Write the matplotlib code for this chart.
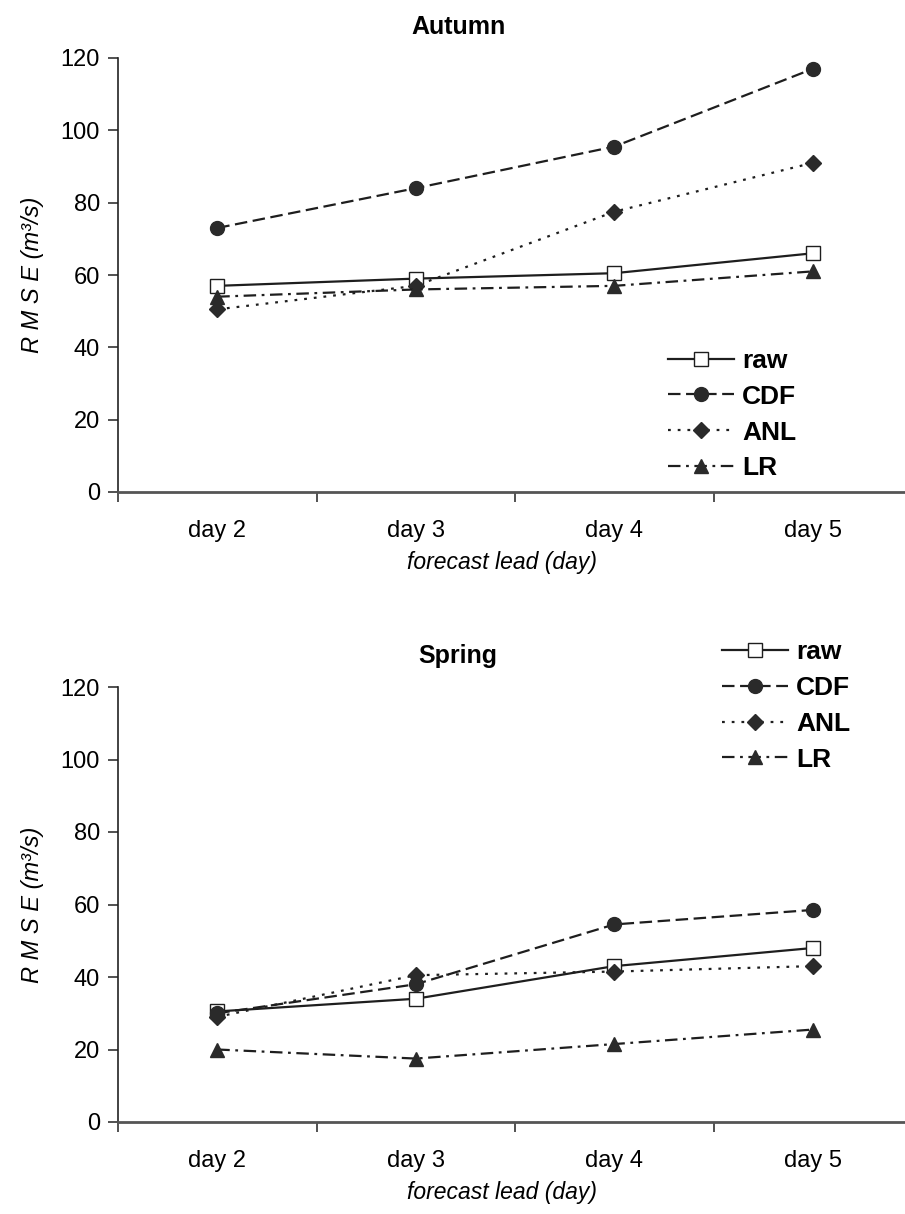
import matplotlib
matplotlib.use("Agg")
import matplotlib.pyplot as plt

plt.rcParams['font.family'] = ['Liberation Sans', 'DejaVu Sans']
plt.rcParams['lines.scale_dashes'] = False

days = ["day 2", "day 3", "day 4", "day 5"]
series = ["raw", "CDF", "ANL", "LR"]

# autumn RMSE (m3/s)
aut_raw = [57, 59, 60.5, 66]
aut_cdf = [73, 84, 95.5, 117]
aut_anl = [50.5, 57, 77.5, 91]
aut_lr = [54, 56, 57, 61]

# spring RMSE (m3/s)
spr_raw = [30.5, 34, 43, 48]
spr_cdf = [30, 38, 54.5, 58.5]
spr_anl = [29, 40.5, 41.5, 43]
spr_lr = [20, 17.5, 21.5, 25.5]

ink = "#1e1e1e"
fill = "#2a2a2a"
styles = {
    "raw": dict(ls="-", marker="s", mfc="white", mec=ink, ms=10, mew=1.0),
    "CDF": dict(dashes=(9, 4), marker="o", mfc=fill, mec=fill, ms=10),
    "ANL": dict(dashes=(2, 5), marker="D", mfc=fill, mec=fill, ms=8.5),
    "LR": dict(dashes=(9, 4, 2, 4), marker="^", mfc=fill, mec=fill, ms=10.5),
}

fig = plt.figure(figsize=(9.05, 12.14), dpi=100)
W, H = 905.0, 1214.0


def panel(top_px, bot_px, title, data, leg_xy):
    ax = fig.add_axes([118 / W, 1 - bot_px / H, 794 / W, (bot_px - top_px) / H])
    x = list(range(len(days)))
    for name, vals in zip(series, data):
        ax.plot(x, vals, color=ink, lw=1.6, label=name, **styles[name])
    ax.set_xlim(-0.5, 3.5)
    ax.set_ylim(0, 120)
    ax.set_yticks(range(0, 121, 20))
    ax.set_xticks([-0.5, 0.5, 1.5, 2.5, 3.5])
    ax.set_xticklabels([])
    ax.set_xticks(x, minor=True)
    ax.set_xticklabels(days, minor=True)
    ax.tick_params(axis="x", which="minor", length=0, pad=20, labelsize=17)
    ax.tick_params(axis="x", which="major", length=7, width=1.2, color="#333333")
    ax.tick_params(axis="y", length=7, width=1.2, color="#333333", labelsize=17, pad=6)
    for s in ["top", "right"]:
        ax.spines[s].set_visible(False)
    ax.spines["left"].set_color("#222222")
    ax.spines["left"].set_linewidth(1.2)
    ax.spines["bottom"].set_color("#555555")
    ax.spines["bottom"].set_linewidth(2.0)
    # titles centred like the spreadsheet chart, not on the plot area
    fig.text(458 / W, 1 - (top_px - 31) / H, title, fontsize=18,
             fontweight="bold", ha="center", va="center")
    fig.text(502 / W, 1 - (bot_px + 71) / H, "forecast lead (day)",
             fontsize=16.5, style="italic", ha="center", va="center")
    ax.set_ylabel("R M S E (m³/s)", fontsize=17, style="italic", labelpad=12)
    ax.legend(loc="upper left", bbox_to_anchor=leg_xy, frameon=False,
              prop=dict(size=19, weight="bold"), handlelength=2.5,
              handletextpad=0.3, labelspacing=0.45, borderpad=0,
              borderaxespad=0)
    return ax


panel(58, 492, "Autumn", [aut_raw, aut_cdf, aut_anl, aut_lr], (0.693, 0.33))
panel(687, 1122, "Spring", [spr_raw, spr_cdf, spr_anl, spr_lr], (0.761, 1.108))

fig.savefig("out.png", dpi=100)
